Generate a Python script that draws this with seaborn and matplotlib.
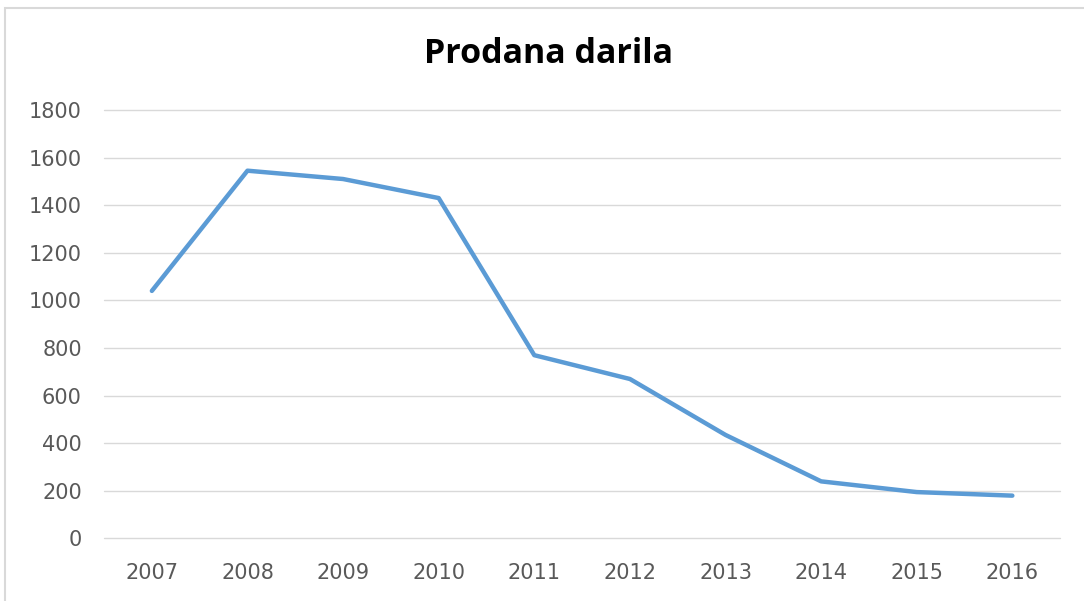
import pandas as pd
import matplotlib.pyplot as plt
import seaborn as sns
from matplotlib.patches import Rectangle

sns.set_theme(style="white")
plt.rcParams["font.family"] = ["DejaVu Sans"]

# ── Data ───────────────────────────────────────────────
years = [2007, 2008, 2009, 2010, 2011, 2012, 2013, 2014, 2015, 2016]
sold = [1040, 1545, 1510, 1430, 770, 670, 435, 240, 195, 180]
y_ticks = [0, 200, 400, 600, 800, 1000, 1200, 1400, 1600, 1800]

df = pd.DataFrame({"leto": years, "prodano": sold})

# ── Figure ─────────────────────────────────────────────
fig = plt.figure(figsize=(10.84, 6.01), dpi=100)
ax = fig.add_axes([0.096, 0.104, 0.882, 0.713])

sns.lineplot(data=df, x="leto", y="prodano", ax=ax,
             color="#5B9BD5", linewidth=3.2, solid_capstyle="round")

ax.set_xlim(years[0] - 0.5, years[-1] + 0.5)
ax.set_ylim(y_ticks[0], y_ticks[-1])
ax.set_xticks(years)
ax.set_xticklabels([str(y) for y in years])
ax.set_yticks(y_ticks)
ax.yaxis.grid(True, color="#D9D9D9", linewidth=1)
for gl in ax.get_ygridlines():
    gl.set_clip_on(False)
ax.set_axisbelow(True)
for s in ax.spines.values():
    s.set_visible(False)
ax.tick_params(axis="both", length=0, labelsize=15, labelcolor="#595959")
ax.tick_params(axis="x", pad=18)
ax.tick_params(axis="y", pad=16)
ax.set_xlabel("")
ax.set_ylabel("")

fig.text(0.506, 0.91, "Prodana darila", ha="center", va="center",
         fontsize=24.5, fontweight="bold", color="black", family="Open Sans")

# chart border (cut off at right and bottom)
fig.patches.append(Rectangle((5 / 1084, -0.05), 1.2, 1 - 8 / 601 + 0.05,
                             transform=fig.transFigure, fill=False,
                             edgecolor="#D9D9D9", linewidth=1.5))

fig.savefig("out.png", dpi=100)
